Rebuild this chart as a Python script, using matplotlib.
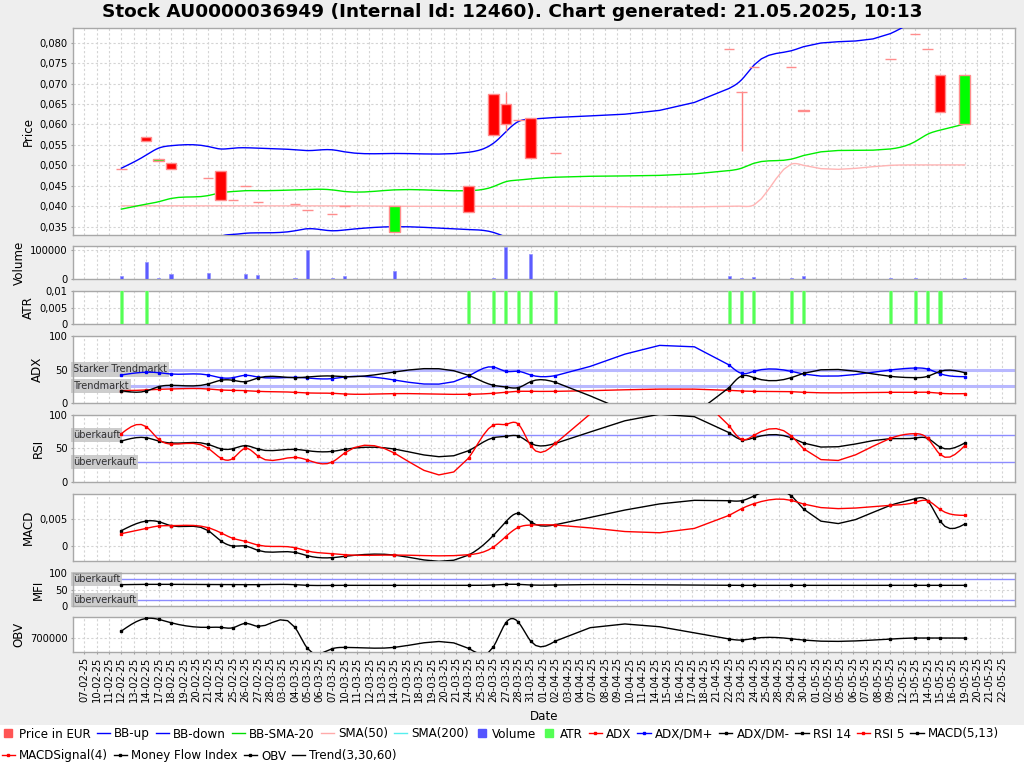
import numpy as np
import matplotlib
matplotlib.use('Agg')
import matplotlib.pyplot as plt
from matplotlib.lines import Line2D
from matplotlib.patches import Rectangle
from matplotlib.ticker import FuncFormatter

title = 'Stock AU0000036949 (Internal Id: 12460). Chart generated: 21.05.2025, 10:13'

# every trading day shown on the date axis
dates = ['07-02-25', '10-02-25', '11-02-25', '12-02-25', '13-02-25', '14-02-25', '17-02-25', '18-02-25',
         '19-02-25', '20-02-25', '21-02-25', '24-02-25', '25-02-25', '26-02-25', '27-02-25', '28-02-25',
         '03-03-25', '04-03-25', '05-03-25', '06-03-25', '07-03-25', '10-03-25', '11-03-25', '12-03-25',
         '13-03-25', '14-03-25', '17-03-25', '18-03-25', '19-03-25', '20-03-25', '21-03-25', '24-03-25',
         '25-03-25', '26-03-25', '27-03-25', '28-03-25', '31-03-25', '01-04-25', '02-04-25', '03-04-25',
         '04-04-25', '07-04-25', '08-04-25', '09-04-25', '10-04-25', '11-04-25', '14-04-25', '15-04-25',
         '16-04-25', '17-04-25', '18-04-25', '21-04-25', '22-04-25', '23-04-25', '24-04-25', '25-04-25',
         '28-04-25', '29-04-25', '30-04-25', '01-05-25', '02-05-25', '05-05-25', '06-05-25', '07-05-25',
         '08-05-25', '09-05-25', '12-05-25', '13-05-25', '14-05-25', '15-05-25', '16-05-25', '19-05-25',
         '20-05-25', '21-05-25', '22-05-25']

# days that actually have quotes
days = ['12-02-25', '14-02-25', '17-02-25', '18-02-25', '21-02-25', '24-02-25', '25-02-25', '26-02-25',
        '27-02-25', '04-03-25', '05-03-25', '07-03-25', '10-03-25', '14-03-25', '24-03-25', '26-03-25',
        '27-03-25', '28-03-25', '31-03-25', '02-04-25', '22-04-25', '23-04-25', '24-04-25', '29-04-25',
        '30-04-25', '09-05-25', '13-05-25', '14-05-25', '15-05-25', '19-05-25']

# prices
p_open = [0.049, 0.057, 0.0511, 0.0505, 0.047, 0.0485, 0.0415, 0.045, 0.041, 0.0405, 0.039, 0.038, 0.040,
          0.0338, 0.045, 0.0675, 0.065, 0.061, 0.0615, 0.053, 0.0785, 0.068, 0.074, 0.074, 0.0632, 0.076,
          0.082, 0.0785, 0.072, 0.0601]
p_close = [0.049, 0.056, 0.0515, 0.049, 0.047, 0.0415, 0.0415, 0.045, 0.041, 0.0405, 0.039, 0.038, 0.040,
           0.040, 0.0385, 0.0575, 0.060, 0.061, 0.0517, 0.053, 0.0785, 0.068, 0.074, 0.074, 0.0636, 0.076,
           0.082, 0.0785, 0.0631, 0.072]
p_high = [0.049, 0.057, 0.0515, 0.0505, 0.047, 0.0485, 0.0415, 0.045, 0.041, 0.0405, 0.039, 0.038, 0.040,
          0.040, 0.045, 0.0675, 0.068, 0.061, 0.0615, 0.053, 0.0785, 0.068, 0.074, 0.074, 0.0636, 0.076,
          0.082, 0.0785, 0.072, 0.072]
p_low = [0.049, 0.056, 0.0511, 0.049, 0.047, 0.0415, 0.0415, 0.045, 0.041, 0.0405, 0.039, 0.038, 0.040,
         0.0338, 0.0385, 0.0575, 0.0585, 0.061, 0.0517, 0.053, 0.0785, 0.0536, 0.074, 0.074, 0.0632, 0.076,
         0.082, 0.0785, 0.0631, 0.0601]

bb_up = [0.0493, 0.0525, 0.0542, 0.0548, 0.0546, 0.0540, 0.0542, 0.0543, 0.0542, 0.0538, 0.0536, 0.0538,
         0.0533, 0.0529, 0.0532, 0.0554, 0.0582, 0.0607, 0.0613, 0.0617, 0.0688, 0.0709, 0.0745, 0.0780,
         0.0790, 0.0822, 0.0852, 0.0862, 0.0870, 0.0878]
bb_down = [0.0293, 0.0285, 0.0280, 0.0290, 0.0306, 0.0326, 0.0331, 0.0334, 0.0335, 0.0340, 0.0345, 0.0340,
           0.0342, 0.0350, 0.0343, 0.0336, 0.0325, 0.0318, 0.0318, 0.0320, 0.0290, 0.0280, 0.0270, 0.0250,
           0.0260, 0.0270, 0.0260, 0.0284, 0.0296, 0.0322]
bb_mid = [0.0393, 0.0405, 0.0411, 0.0419, 0.0426, 0.0433, 0.0436, 0.0438, 0.0438, 0.0440, 0.0441, 0.0440,
          0.0436, 0.0440, 0.0438, 0.0448, 0.0460, 0.0464, 0.0467, 0.0471, 0.0487, 0.0493, 0.0505, 0.0515,
          0.0524, 0.0540, 0.0558, 0.0576, 0.0586, 0.0601]
sma50 = [0.0401, 0.0401, 0.0401, 0.0401, 0.0401, 0.0401, 0.0401, 0.0401, 0.0401, 0.0401, 0.0401, 0.0401,
         0.0401, 0.0400, 0.0400, 0.0400, 0.0400, 0.0400, 0.0400, 0.0400, 0.0400, 0.0400, 0.0403, 0.0503,
         0.0500, 0.0500, 0.0501, 0.0501, 0.0501, 0.0501]

volume = [11000, 58000, 4500, 19000, 21600, 500, 300, 18000, 15000, 4000, 100000, 3500, 11000, 30000, 1000,
          5000, 109000, 1000, 86000, 500, 10000, 4000, 8000, 4000, 10000, 6000, 6000, 2000, 1000, 3000]
atr = [0.0105, 0.0105, 0, 0, 0, 0, 0, 0, 0, 0, 0, 0, 0, 0, 0.0105, 0.0105, 0.0105, 0.0105, 0.0105, 0.0105,
       0.0105, 0.0105, 0.0105, 0.0105, 0.0105, 0.0105, 0.0105, 0.0105, 0.0105, 0]

adx = [18.7, 19.7, 20.7, 21.2, 21.2, 19.7, 19.2, 18.7, 17.7, 16.3, 15.3, 14.8, 13.8, 14.3, 13.3, 14.8, 16.3,
       17.7, 17.7, 17.7, 19.2, 18.2, 17.7, 17.2, 16.3, 16.3, 16.3, 16.3, 14.8, 14.3]
dm_plus = [41.9, 46.0, 45.3, 43.3, 41.9, 37.9, 37.9, 41.4, 38.9, 38.4, 37.4, 36.5, 38.9, 34.5, 40.4, 53.7,
           47.3, 47.3, 41.9, 40.9, 56.7, 44.3, 47.3, 47.3, 43.3, 49.3, 52.2, 50.7, 43.8, 39.4]
dm_minus = [18.7, 18.2, 24.6, 26.6, 28.6, 34.0, 34.0, 32.0, 37.4, 37.9, 38.9, 40.4, 39.4, 46.3, 41.4, 26.6,
            24.1, 23.2, 32.0, 31.0, 23.2, 40.4, 37.9, 37.9, 44.3, 39.9, 37.9, 39.9, 47.3, 45.3]

rsi14 = [60.9, 65.8, 60.9, 57.9, 55.9, 49.5, 49.5, 54.0, 49.0, 48.5, 46.5, 45.5, 48.5, 49.0, 46.5, 65.8,
         67.8, 68.3, 57.4, 57.4, 73.3, 62.9, 65.8, 65.8, 57.9, 64.4, 65.3, 64.9, 52.0, 57.9]
rsi5 = [71.8, 82.2, 63.4, 56.4, 50.0, 35.6, 35.1, 50.0, 38.6, 36.6, 32.7, 29.7, 43.1, 43.1, 35.6, 84.7,
        85.6, 86.1, 54.0, 57.4, 83.7, 63.4, 69.3, 68.8, 49.5, 64.9, 71.8, 64.9, 41.1, 54.0]

macd = [0.00281, 0.00457, 0.00445, 0.00372, 0.00281, 0.00098, 0.0, 0.0, -0.00079, -0.00116, -0.00177,
        -0.00213, -0.00189, -0.00165, -0.00165, 0.00195, 0.00445, 0.00598, 0.00445, 0.00390, 0.00829,
        0.00829, 0.00915, 0.00921, 0.00677, 0.00744, 0.00866, 0.00829, 0.00457, 0.00402]
macd_signal = [0.00226, 0.00323, 0.00366, 0.00372, 0.00335, 0.00244, 0.00140, 0.00085, 0.00018, -0.00030,
               -0.00091, -0.00140, -0.00159, -0.00165, -0.00159, -0.00018, 0.00174, 0.00341, 0.00384,
               0.00384, 0.00561, 0.00683, 0.00774, 0.00835, 0.00768, 0.00744, 0.00799, 0.00829, 0.00671,
               0.00561]

mfi = [64.4, 65.3, 65.3, 65.3, 64.4, 64.4, 64.4, 64.4, 64.4, 64.4, 62.4, 62.4, 62.4, 62.4, 62.4, 63.4,
       65.3, 65.3, 63.4, 63.4, 62.4, 62.4, 62.4, 62.4, 62.4, 62.4, 62.4, 62.4, 62.4, 62.4]

obv = [730500, 788500, 784000, 768700, 747300, 747300, 745800, 765600, 751900, 747300, 651100, 649600,
       655700, 655700, 651100, 658800, 768700, 771700, 684700, 684700, 693900, 689300, 696900, 695400,
       689300, 693900, 698500, 698500, 698500, 698500]

x = [dates.index(d) for d in days]


def spline(xs, ys, precision=5):
    # natural cubic spline sampled like JFreeChart's XYSplineRenderer
    xs = np.asarray(xs, float)
    d = np.asarray(ys, float)
    n = len(xs)
    h = np.diff(xs)
    A = np.zeros((n, n))
    r = np.zeros(n)
    A[0, 0] = A[-1, -1] = 1
    for i in range(1, n - 1):
        A[i, i - 1] = h[i - 1] / 6
        A[i, i] = (h[i - 1] + h[i]) / 3
        A[i, i + 1] = h[i] / 6
        r[i] = (d[i + 1] - d[i]) / h[i] - (d[i] - d[i - 1]) / h[i - 1]
    a = np.linalg.solve(A, r)
    px, py = [xs[0]], [d[0]]
    for i in range(1, n):
        hi = h[i - 1]
        for j in range(1, precision + 1):
            t1 = hi * j / precision
            t2 = hi - t1
            yv = ((-a[i - 1] / 6 * (t2 + hi) * t1 + d[i - 1]) * t2 +
                  (-a[i] / 6 * (t1 + hi) * t2 + d[i]) * t1) / hi
            px.append(xs[i - 1] + t1)
            py.append(yv)
    return px, py


def curve(ax, ys, color, marker=True, lw=1.0, z=3):
    sx, sy = spline(x, ys)
    ax.plot(sx, sy, color=color, lw=lw, zorder=z)
    if marker:
        ax.plot(x, ys, linestyle='none', marker='s', ms=2, color=color, zorder=z)


def de_num(v, pos=None, dec=3):
    s = f'{v:.{dec}f}'.rstrip('0').rstrip('.') if v != 0 else '0'
    return s.replace('.', ',')


W, H = 1024, 768
fig = plt.figure(figsize=(10.24, 7.68), dpi=100, facecolor='#EEEEEE')
fig.patches.append(Rectangle((0, 0), 1, 1 - 725 / H, transform=fig.transFigure,
                             facecolor='white', edgecolor='none', zorder=0))


def panel(top, bottom, label):
    ax = fig.add_axes([73 / W, 1 - bottom / H, 942 / W, (bottom - top) / H])
    ax.set_facecolor('white')
    for s in ax.spines.values():
        s.set_color('#A8A8A8')
        s.set_linewidth(1)
    ax.set_xlim(-0.9, len(dates) + 0.05)
    ax.set_xticks(range(len(dates)))
    ax.grid(True, color='#D4D4D4', linestyle=(0, (2, 2)), linewidth=0.8)
    ax.set_axisbelow(True)
    ax.tick_params(axis='y', labelsize=7.2, length=1.5, pad=2.5, color='#A0A0A0')
    ax.tick_params(axis='x', labelbottom=False, length=0)
    ax.set_ylabel(label, fontsize=8.6, labelpad=3)
    return ax


def line_label(ax, y, text, color='#8C8CFF', lw=1.0):
    ax.axhline(y, color=color, lw=lw, zorder=2)
    ax.text(0.0, y, text, transform=ax.get_yaxis_transform(), fontsize=7, color='#303030',
            va='center', ha='left', zorder=2.5,
            bbox=dict(facecolor='#C8C8C8', edgecolor='none', alpha=0.9, pad=1.5))


# price panel
ax_p = panel(28.3, 235, 'Price')
ax_p.set_ylim(0.03297, 0.0835)
ax_p.set_yticks(np.arange(0.035, 0.0801, 0.005))
ax_p.yaxis.set_major_formatter(FuncFormatter(lambda v, p: f'{v:.3f}'.replace('.', ',')))
curve(ax_p, bb_up, '#0000FF', marker=False)
curve(ax_p, bb_down, '#0000FF', marker=False)
curve(ax_p, bb_mid, '#00EE00', marker=False)
curve(ax_p, sma50, '#FFB4B4', marker=False, z=2)
body_lo = np.minimum(p_open, p_close)
body_h = np.abs(np.array(p_close) - np.array(p_open))
body_col = ['#00FF00' if c > o else '#FF0000' for o, c in zip(p_open, p_close)]
ax_p.vlines(x, p_low, p_high, color='#FF8080', lw=1, zorder=4)
ax_p.bar(x, body_h, bottom=body_lo, width=0.85, color=body_col, edgecolor='#FF8C8C', lw=1, zorder=5)

# volume
ax_v = panel(246, 279.3, 'Volume')
ax_v.set_ylim(0, 114000)
ax_v.set_yticks([0, 100000])
ax_v.yaxis.set_major_formatter(FuncFormatter(lambda v, p: f'{v:.0f}'))
ax_v.bar(x, volume, width=0.25, color='#5C5CFF', edgecolor='#9090FF', lw=0.5, zorder=3)

# ATR
ax_a = panel(290.7, 324, 'ATR')
ax_a.set_ylim(0, 0.0101)
ax_a.set_yticks([0, 0.005, 0.01])
ax_a.yaxis.set_major_formatter(FuncFormatter(de_num))
ax_a.bar(x, atr, width=0.25, color='#55FF55', edgecolor='#90FF90', lw=0.5, zorder=3)

# ADX
ax_d = panel(335.7, 403.3, 'ADX')
ax_d.set_ylim(0, 100)
ax_d.set_yticks([0, 50, 100])
line_label(ax_d, 50, 'Starker Trendmarkt', color='#B8B8FF', lw=2.2)
line_label(ax_d, 25, 'Trendmarkt', color='#B8B8FF', lw=2.2)
curve(ax_d, adx, '#FF0000')
curve(ax_d, dm_plus, '#0000FF')
curve(ax_d, dm_minus, '#000000')

# RSI
ax_r = panel(414.7, 482, 'RSI')
ax_r.set_ylim(0, 100)
ax_r.set_yticks([0, 50, 100])
line_label(ax_r, 70, 'überkauft')
line_label(ax_r, 30, 'überverkauft')
curve(ax_r, rsi14, '#000000')
curve(ax_r, rsi5, '#FF0000')

# MACD
ax_m = panel(493.7, 561, 'MACD')
ax_m.set_ylim(-0.00274, 0.00957)
ax_m.set_yticks([0, 0.005])
ax_m.yaxis.set_major_formatter(FuncFormatter(de_num))
curve(ax_m, macd, '#000000')
curve(ax_m, macd_signal, '#FF0000')

# MFI
ax_f = panel(572.7, 606.3, 'MFI')
ax_f.set_ylim(0, 100)
ax_f.set_yticks([0, 50, 100])
line_label(ax_f, 80, 'überkauft')
line_label(ax_f, 20, 'überverkauft')
curve(ax_f, mfi, '#000000')

# OBV
ax_o = panel(617.3, 651.7, 'OBV')
ax_o.set_ylim(636000, 793500)
ax_o.set_yticks([700000])
ax_o.yaxis.set_major_formatter(FuncFormatter(lambda v, p: f'{v:.0f}'))
curve(ax_o, obv, '#000000')
ax_o.tick_params(axis='x', labelbottom=True, length=1.5, pad=2, color='#A0A0A0')
ax_o.set_xticklabels(dates, rotation=90, fontsize=7.2)
ax_o.set_xlabel('Date', fontsize=8.6, labelpad=6)

fig.text(0.5, 1 - 12 / H, title, ha='center', va='center', fontsize=13.3, fontweight='bold')


# legend
def sq(c):
    return Line2D([], [], linestyle='none', marker='s', ms=6, color=c)


def ln(c, m=True):
    return Line2D([], [], color=c, lw=1, marker='s' if m else None, ms=2)


row1 = [(sq('#FF5555'), 'Price in EUR'), (ln('#0000FF', False), 'BB-up'), (ln('#0000FF', False), 'BB-down'),
        (ln('#00DD00', False), 'BB-SMA-20'), (ln('#FFAAAA', False), 'SMA(50)'),
        (ln('#55EEEE', False), 'SMA(200)'), (sq('#5555FF'), 'Volume'), (sq('#55FF55'), 'ATR'),
        (ln('#FF0000'), 'ADX'), (ln('#0000FF'), 'ADX/DM+'), (ln('#000000'), 'ADX/DM-'),
        (ln('#000000'), 'RSI 14'), (ln('#FF0000'), 'RSI 5'), (ln('#000000'), 'MACD(5,13)')]
row2 = [(ln('#FF0000'), 'MACDSignal(4)'), (ln('#000000'), 'Money Flow Index'), (ln('#000000'), 'OBV'),
        (ln('#000000', False), 'Trend(3,30,60)')]
for row, yc in [(row1, 734), (row2, 756)]:
    fig.legend([h for h, _ in row], [t for _, t in row], loc='center left',
               bbox_to_anchor=(1.5 / W, 1 - yc / H), ncol=len(row), frameon=False, fontsize=8.6,
               handlelength=1.1, handletextpad=0.35, columnspacing=0.5, borderpad=0, borderaxespad=0,
               numpoints=1)

fig.savefig('out.png', dpi=100, facecolor=fig.get_facecolor())
